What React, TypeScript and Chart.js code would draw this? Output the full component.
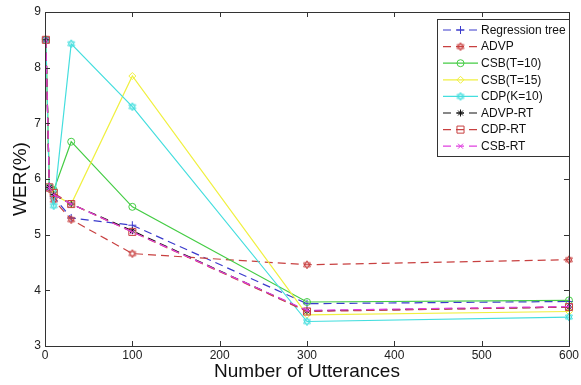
import React, { useEffect, useRef } from 'react';
import { Chart, registerables } from 'chart.js';
import { drawPoint } from 'chart.js/helpers';

Chart.register(...registerables);

// ---- data ----
const xValues = [1, 5, 10, 30, 100, 300, 600];
const regressionTree = [8.5, 5.85, 5.68, 5.3, 5.17, 3.76, 3.8];
const advp = [8.5, 5.82, 5.62, 5.27, 4.66, 4.46, 4.55];
const csbT10 = [8.5, 5.85, 5.8, 6.67, 5.5, 3.79, 3.82];
const csbT15 = [8.5, 5.85, 5.72, 5.55, 7.85, 3.56, 3.62];
const cdpK10 = [8.5, 5.85, 5.52, 8.43, 7.3, 3.44, 3.52];
const advpRt = [8.5, 5.85, 5.72, 5.55, 5.07, 3.63, 3.7];
const cdpRt = [8.5, 5.85, 5.75, 5.55, 5.05, 3.62, 3.7];
const csbRt = [8.5, 5.83, 5.72, 5.55, 5.05, 3.64, 3.71];
const seriesLabels = ['Regression tree', 'ADVP', 'CSB(T=10)', 'CSB(T=15)', 'CDP(K=10)', 'ADVP-RT', 'CDP-RT', 'CSB-RT'];
const xTickValues = [0, 100, 200, 300, 400, 500, 600];
const yTickValues = [3, 4, 5, 6, 7, 8, 9];
const xTitle = 'Number of Utterances';
const yTitle = 'WER(%)';

const FONT = "'Liberation Sans', Arial, sans-serif";

function hexagram(color: string): HTMLCanvasElement {
  const c = document.createElement('canvas');
  c.width = 10;
  c.height = 10;
  const g = c.getContext('2d')!;
  g.strokeStyle = color;
  g.lineWidth = 1;
  const cx = 5, cy = 5, r = 4;
  for (let t = 0; t < 2; t++) {
    g.beginPath();
    for (let i = 0; i < 3; i++) {
      const a = -Math.PI / 2 + t * Math.PI + (i * 2 * Math.PI) / 3;
      const px = cx + r * Math.cos(a);
      const py = cy + r * Math.sin(a);
      if (i === 0) g.moveTo(px, py);
      else g.lineTo(px, py);
    }
    g.closePath();
    g.stroke();
  }
  return c;
}

const boxAndLegend = {
  id: 'boxAndLegend',
  afterDraw(chart: any) {
    const { ctx, chartArea } = chart;
    const xs = chart.scales.x;
    const ys = chart.scales.y;
    ctx.save();
    ctx.strokeStyle = '#333';
    ctx.lineWidth = 1;
    ctx.setLineDash([]);
    ctx.strokeRect(chartArea.left + 0.5, chartArea.top + 0.5, chartArea.right - chartArea.left, chartArea.bottom - chartArea.top);
    const tl = 5;
    ctx.beginPath();
    xTickValues.forEach((v) => {
      const px = Math.round(xs.getPixelForValue(v)) + 0.5;
      ctx.moveTo(px, chartArea.bottom);
      ctx.lineTo(px, chartArea.bottom - tl);
      ctx.moveTo(px, chartArea.top);
      ctx.lineTo(px, chartArea.top + tl);
    });
    yTickValues.forEach((v) => {
      const py = Math.round(ys.getPixelForValue(v)) + 0.5;
      ctx.moveTo(chartArea.left, py);
      ctx.lineTo(chartArea.left + tl, py);
      ctx.moveTo(chartArea.right, py);
      ctx.lineTo(chartArea.right - tl, py);
    });
    ctx.stroke();

    // legend
    const bx = 437, by = 19, bw = 132, bh = 137;
    ctx.fillStyle = '#fff';
    ctx.fillRect(bx, by, bw, bh);
    ctx.strokeStyle = '#333';
    ctx.strokeRect(bx + 0.5, by + 0.5, bw, bh);
    ctx.font = `12px ${FONT}`;
    ctx.textBaseline = 'middle';
    ctx.textAlign = 'left';
    chart.data.datasets.forEach((ds: any, i: number) => {
      const cy = 30 + i * 16.6;
      ctx.save();
      ctx.strokeStyle = ds.borderColor;
      ctx.lineWidth = ds.borderWidth;
      ctx.setLineDash(ds.borderDash || []);
      ctx.beginPath();
      ctx.moveTo(443, cy);
      ctx.lineTo(478, cy);
      ctx.stroke();
      ctx.setLineDash([]);
      ctx.strokeStyle = ds.pointBorderColor;
      ctx.fillStyle = 'rgba(0,0,0,0)';
      ctx.lineWidth = ds.pointBorderWidth;
      drawPoint(ctx, { pointStyle: ds.pointStyle, radius: ds.pointRadius, rotation: 0, borderWidth: ds.pointBorderWidth }, 460.5, cy);
      ctx.restore();
      ctx.fillStyle = '#111';
      ctx.fillText(ds.label, 481, cy + 0.5);
    });
    ctx.restore();
  },
};

export default function App() {
  const ref = useRef<HTMLCanvasElement>(null);
  useEffect(() => {
    if (!ref.current) return;
    const mk = (i: number, values: number[], color: string, dash: number[], style: any, radius: number) => ({
      label: seriesLabels[i],
      order: 10 - i,
      data: xValues.map((x, k) => ({ x, y: values[k] })),
      borderColor: color,
      backgroundColor: color,
      borderWidth: 1.2,
      borderDash: dash,
      pointStyle: style,
      pointRadius: radius,
      pointBorderColor: color,
      pointBackgroundColor: 'rgba(0,0,0,0)',
      pointBorderWidth: 1,
      tension: 0,
      clip: false as any,
    });
    const dashed = [8, 5];
    const datasets = [
      mk(0, regressionTree, '#3a3acc', dashed, 'cross', 4),
      mk(1, advp, '#c84040', dashed, hexagram('#c84040'), 4),
      mk(2, csbT10, '#44cc44', [], 'circle', 3.5),
      mk(3, csbT15, '#f0f040', [], 'rectRot', 3.5),
      mk(4, cdpK10, '#44dede', [], hexagram('#44dede'), 4),
      mk(5, advpRt, '#111111', dashed, 'star', 3.5),
      mk(6, cdpRt, '#c84040', dashed, 'rect', 5),
      mk(7, csbRt, '#e040e0', dashed, 'crossRot', 3.5),
    ];
    const chart = new Chart(ref.current, {
      type: 'line',
      data: { datasets },
      options: {
        animation: false,
        responsive: false,
        maintainAspectRatio: false,
        layout: { padding: { top: 12, right: 8, left: 0, bottom: 0 } },
        plugins: { legend: { display: false }, tooltip: { enabled: false } },
        scales: {
          x: {
            type: 'linear',
            min: 0,
            max: 600,
            afterBuildTicks: (s: any) => {
              s.ticks = xTickValues.map((v) => ({ value: v }));
            },
            afterFit: (s: any) => {
              s.height = 39;
            },
            grid: { display: false, drawTicks: false },
            border: { display: false },
            ticks: { font: { family: FONT, size: 12 }, color: '#222', padding: 2, maxRotation: 0, autoSkip: false },
            title: {
              display: true,
              text: xTitle,
              font: { family: FONT, size: 19, lineHeight: 1 },
              color: '#111',
              padding: { top: 0, bottom: 3.5 },
            },
          },
          y: {
            type: 'linear',
            min: 3,
            max: 9,
            afterBuildTicks: (s: any) => {
              s.ticks = yTickValues.map((v) => ({ value: v }));
            },
            afterFit: (s: any) => {
              s.width = 45;
            },
            grid: { display: false, drawTicks: false },
            border: { display: false },
            ticks: { font: { family: FONT, size: 12 }, color: '#222', padding: 4, autoSkip: false },
            title: {
              display: true,
              text: yTitle,
              font: { family: FONT, size: 19, lineHeight: 1 },
              color: '#111',
              padding: { top: 11.5, bottom: 0 },
            },
          },
        },
      },
      plugins: [boxAndLegend],
    });
    return () => chart.destroy();
  }, []);
  return (
    <div style={{ position: 'fixed', left: 0, top: 0, width: 581, height: 385, background: '#fff' }}>
      <canvas ref={ref} width={581} height={385} style={{ display: 'block', width: 581, height: 385 }} />
    </div>
  );
}
